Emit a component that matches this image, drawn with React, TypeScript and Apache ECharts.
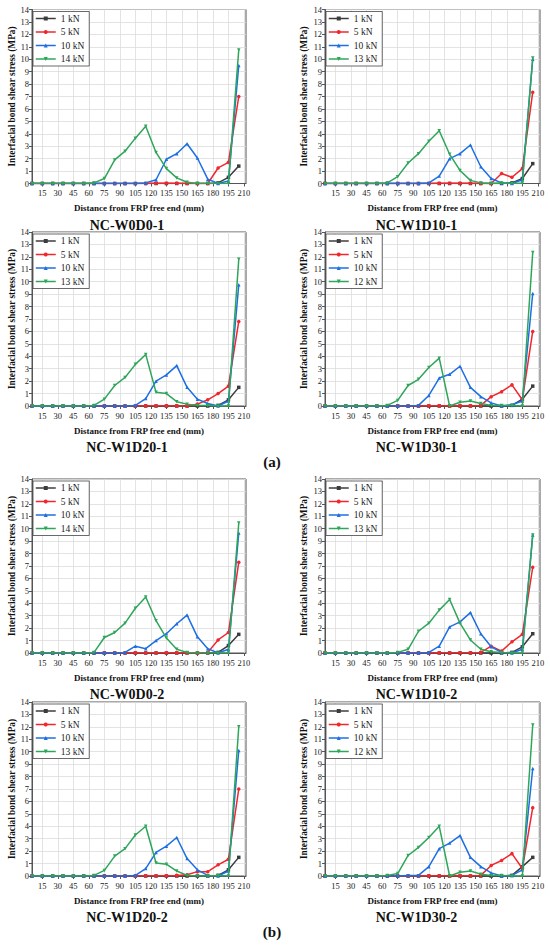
import React, { useEffect, useRef } from "react";
import * as echarts from "echarts";

// ---- data ----
const xPositions = [5, 15, 25, 35, 45, 55, 65, 75, 85, 95, 105, 115, 125, 135, 145, 155, 165, 175, 185, 195, 205];
const xTickValues = [15, 30, 45, 60, 75, 90, 105, 120, 135, 150, 165, 180, 195, 210];

const panelTitles = ["NC-W0D0-1", "NC-W1D10-1", "NC-W1D20-1", "NC-W1D30-1", "NC-W0D0-2", "NC-W1D10-2", "NC-W1D20-2", "NC-W1D30-2"];
const peakLoadNames = ["14 kN", "13 kN", "13 kN", "12 kN", "14 kN", "13 kN", "13 kN", "12 kN"];
const commonLoadNames = ["1 kN", "5 kN", "10 kN"];

// NC-W0D0-1
const p1_1kN = [0, 0, 0, 0, 0, 0, 0, 0, 0, 0, 0, 0, 0, 0, 0, 0, 0, 0, 0.05, 0.5, 1.4];
const p1_5kN = [0, 0, 0, 0, 0, 0, 0, 0, 0, 0, 0, 0, 0.02, 0.02, 0.02, 0, 0, 0, 1.25, 1.7, 7.0];
const p1_10kN = [0, 0, 0, 0, 0, 0, 0, 0, 0, 0, 0, 0.05, 0.3, 1.95, 2.4, 3.2, 2.05, 0.35, 0, 0.2, 9.5];
const p1_peak = [0, 0, 0, 0, 0, 0, 0.05, 0.4, 1.9, 2.6, 3.65, 4.6, 2.5, 1.2, 0.45, 0.1, 0, 0, 0, 0, 10.75];
// NC-W1D10-1
const p2_1kN = [0, 0, 0, 0, 0, 0, 0, 0, 0, 0, 0, 0, 0, 0, 0, 0, 0, 0, 0.05, 0.4, 1.6];
const p2_5kN = [0, 0, 0, 0, 0, 0, 0, 0, 0, 0, 0, 0.02, 0.02, 0.02, 0.02, 0, 0, 0.8, 0.5, 1.2, 7.35];
const p2_10kN = [0, 0, 0, 0, 0, 0, 0, 0, 0, 0, 0.05, 0.6, 2.0, 2.4, 3.1, 1.35, 0.4, 0.05, 0, 0.3, 10.0];
const p2_peak = [0, 0, 0, 0, 0, 0, 0.05, 0.55, 1.65, 2.4, 3.4, 4.25, 2.35, 1.05, 0.25, 0.05, 0, 0.05, 0, 0.05, 10.1];
// NC-W1D20-1
const p3_1kN = [0, 0, 0, 0, 0, 0, 0, 0, 0, 0, 0, 0, 0, 0, 0, 0, 0, 0, 0.05, 0.5, 1.5];
const p3_5kN = [0, 0, 0, 0, 0, 0, 0, 0, 0, 0, 0, 0.02, 0.02, 0.02, 0, 0, 0.15, 0.5, 1.0, 1.6, 6.8];
const p3_10kN = [0, 0, 0, 0, 0, 0, 0, 0, 0, 0, 0.05, 0.6, 2.0, 2.5, 3.25, 1.5, 0.55, 0.2, 0, 0.4, 9.75];
const p3_peak = [0, 0, 0, 0, 0, 0, 0.05, 0.55, 1.65, 2.3, 3.35, 4.15, 1.1, 1.0, 0.35, 0.15, 0.05, 0.05, 0, 0, 11.8];
// NC-W1D30-1
const p4_1kN = [0, 0, 0, 0, 0, 0, 0, 0, 0, 0, 0, 0, 0, 0, 0, 0, 0, 0, 0.05, 0.55, 1.6];
const p4_5kN = [0, 0, 0, 0, 0, 0, 0, 0, 0, 0, 0.02, 0.02, 0, 0.02, 0.02, 0.05, 0.75, 1.15, 1.7, 0.5, 6.0];
const p4_10kN = [0, 0, 0, 0, 0, 0, 0, 0, 0, 0.05, 0.85, 2.25, 2.55, 3.2, 1.5, 0.75, 0.25, 0, 0.1, 0.4, 9.05];
const p4_peak = [0, 0, 0, 0, 0, 0, 0.05, 0.45, 1.65, 2.15, 3.1, 3.85, 0, 0.3, 0.4, 0.2, 0.05, 0.05, 0.05, 0, 12.35];
// NC-W0D0-2
const p5_1kN = [0, 0, 0, 0, 0, 0, 0, 0, 0, 0, 0, 0, 0, 0, 0, 0, 0, 0, 0.05, 0.6, 1.5];
const p5_5kN = [0, 0, 0, 0, 0, 0, 0, 0, 0, 0, 0.02, 0.02, 0.02, 0.02, 0.02, 0, 0, 0.05, 1.05, 1.65, 7.3];
const p5_10kN = [0, 0, 0, 0, 0, 0, 0, 0, 0, 0.05, 0.55, 0.35, 1.0, 1.55, 2.35, 3.05, 1.3, 0.35, 0, 0.3, 9.65];
const p5_peak = [0, 0, 0, 0, 0, 0, 0.05, 1.25, 1.65, 2.4, 3.6, 4.5, 2.6, 1.2, 0.3, 0.05, 0, 0, 0, 0, 10.45];
// NC-W1D10-2
const p6_1kN = [0, 0, 0, 0, 0, 0, 0, 0, 0, 0, 0, 0, 0, 0, 0, 0, 0, 0, 0.05, 0.5, 1.55];
const p6_5kN = [0, 0, 0, 0, 0, 0, 0, 0, 0, 0, 0, 0.02, 0.02, 0.02, 0.02, 0.05, 0.55, 0.15, 0.9, 1.5, 6.9];
const p6_10kN = [0, 0, 0, 0, 0, 0, 0, 0, 0, 0, 0.05, 0.55, 2.1, 2.5, 3.25, 1.55, 0.5, 0.05, 0, 0.3, 9.5];
const p6_peak = [0, 0, 0, 0, 0, 0, 0, 0.05, 0.3, 1.75, 2.4, 3.45, 4.3, 2.4, 1.05, 0.3, 0.1, 0.05, 0, 0, 9.5];
// NC-W1D20-2
const p7_1kN = [0, 0, 0, 0, 0, 0, 0, 0, 0, 0, 0, 0, 0, 0, 0, 0, 0, 0, 0.05, 0.5, 1.5];
const p7_5kN = [0, 0, 0, 0, 0, 0, 0, 0, 0, 0, 0, 0.02, 0.02, 0.02, 0.05, 0.1, 0.35, 0.35, 0.9, 1.35, 7.0];
const p7_10kN = [0, 0, 0, 0, 0, 0, 0, 0, 0, 0, 0.05, 0.6, 1.9, 2.4, 3.1, 1.4, 0.5, 0.05, 0, 0.4, 10.1];
const p7_peak = [0, 0, 0, 0, 0, 0, 0.05, 0.45, 1.6, 2.2, 3.3, 4.0, 1.05, 0.95, 0.4, 0.05, 0, 0, 0.05, 0, 12.0];
// NC-W1D30-2
const p8_1kN = [0, 0, 0, 0, 0, 0, 0, 0, 0, 0, 0, 0, 0, 0, 0, 0, 0, 0, 0.05, 0.75, 1.5];
const p8_5kN = [0, 0, 0, 0, 0, 0, 0, 0, 0, 0, 0.02, 0.02, 0, 0.02, 0.02, 0.05, 0.85, 1.25, 1.8, 0.6, 5.5];
const p8_10kN = [0, 0, 0, 0, 0, 0, 0, 0, 0.05, 0.05, 0.75, 2.2, 2.65, 3.25, 1.5, 0.75, 0.25, 0, 0.05, 0.5, 8.65];
const p8_peak = [0, 0, 0, 0, 0, 0, 0.05, 0.2, 1.65, 2.3, 3.1, 4.0, 0, 0.3, 0.4, 0.15, 0.05, 0.05, 0, 0, 12.15];

const panelSeries = [
  [p1_1kN, p1_5kN, p1_10kN, p1_peak],
  [p2_1kN, p2_5kN, p2_10kN, p2_peak],
  [p3_1kN, p3_5kN, p3_10kN, p3_peak],
  [p4_1kN, p4_5kN, p4_10kN, p4_peak],
  [p5_1kN, p5_5kN, p5_10kN, p5_peak],
  [p6_1kN, p6_5kN, p6_10kN, p6_peak],
  [p7_1kN, p7_5kN, p7_10kN, p7_peak],
  [p8_1kN, p8_5kN, p8_10kN, p8_peak],
];

// ---- styling / layout ----
const SERIF = "Liberation Serif";
const COLORS = ["#3c3c3c", "#f2262b", "#1d6fe3", "#2ea65a"];
const SYMBOLS = ["rect", "circle", "triangle", "triangle"];
const ROTATES = [0, 0, 0, 180];
const COL_LEFT = [32, 325];
const COL_WIDTH = [214, 215];
const COL_CENTER = [127, 416.5];
const ROW_TOP = [9.5, 232, 479, 702];
const PLOT_H = 174;
const Y_NAME_GAP = [14, 17];

function buildOption() {
  const grid: any[] = [];
  const xAxis: any[] = [];
  const yAxis: any[] = [];
  const series: any[] = [];
  const legend: any[] = [];
  const graphic: any[] = [];

  panelSeries.forEach((sets, i) => {
    const col = i % 2;
    const row = Math.floor(i / 2);
    const left = COL_LEFT[col];
    const top = ROW_TOP[row];
    grid.push({
      left,
      top,
      width: COL_WIDTH[col],
      height: PLOT_H,
      show: true,
      borderColor: "#555",
      borderWidth: 1,
      backgroundColor: "#fff",
    });
    xAxis.push({
      type: "value",
      gridIndex: i,
      min: 5,
      max: 212,
      name: "Distance from FRP free end (mm)",
      nameLocation: "middle",
      nameGap: 20,
      nameTextStyle: { fontFamily: SERIF, fontWeight: "bold", fontSize: 9, color: "#111" },
      axisLine: { show: true, onZero: false, lineStyle: { color: "#555", width: 1 } },
      axisTick: { show: true, length: 3, customValues: xTickValues, lineStyle: { color: "#555" } },
      axisLabel: { customValues: xTickValues, fontFamily: SERIF, fontSize: 8.5, color: "#222", margin: 5, hideOverlap: false },
      splitLine: { show: true, lineStyle: { color: "#dcdcdc", width: 0.8 } },
    });
    yAxis.push({
      type: "value",
      gridIndex: i,
      min: 0,
      max: 14,
      interval: 1,
      name: "Interfacial bond shear stress (MPa)",
      nameLocation: "middle",
      nameGap: Y_NAME_GAP[col],
      nameRotate: 90,
      nameTextStyle: { fontFamily: SERIF, fontWeight: "bold", fontSize: 9.3, color: "#111" },
      axisLine: { show: true, lineStyle: { color: "#555", width: 1 } },
      axisTick: { show: true, length: 3, lineStyle: { color: "#555" } },
      axisLabel: { fontFamily: SERIF, fontSize: 8.5, color: "#222", margin: 3 },
      splitLine: { show: true, lineStyle: { color: "#dcdcdc", width: 0.8 } },
    });
    const names = [...commonLoadNames, peakLoadNames[i]];
    sets.forEach((vals, k) => {
      series.push({
        type: "line",
        name: names[k],
        xAxisIndex: i,
        yAxisIndex: i,
        data: xPositions.map((x, j) => [x, vals[j]]),
        symbol: SYMBOLS[k],
        symbolRotate: ROTATES[k],
        symbolSize: 3.5,
        showSymbol: true,
        lineStyle: { color: COLORS[k], width: 1.5 },
        itemStyle: { color: COLORS[k], borderWidth: 0 },
        z: 2 + k,
      });
    });
    legend.push({
      left: left + 1,
      top: top + 2,
      orient: "vertical",
      data: names,
      selectedMode: false,
      itemWidth: 20,
      itemHeight: 5,
      itemGap: 3.5,
      padding: [2, 5, 2, 2],
      borderColor: "#444",
      borderWidth: 0.8,
      backgroundColor: "#fff",
      itemStyle: { borderWidth: 0 },
      lineStyle: { width: 1.5 },
      textStyle: { fontFamily: SERIF, fontSize: 9.5, color: "#222" },
    });
    graphic.push({
      type: "text",
      x: COL_CENTER[col],
      y: top + PLOT_H + 41.5,
      style: {
        text: panelTitles[i],
        fontFamily: SERIF,
        fontWeight: "bold",
        fontSize: 14,
        fill: "#111",
        textAlign: "center",
        textVerticalAlign: "middle",
      },
    });
  });

  graphic.push({
    type: "text",
    x: 272,
    y: 462,
    style: { text: "(a)", fontFamily: SERIF, fontWeight: "bold", fontSize: 15, fill: "#111", textAlign: "center", textVerticalAlign: "middle" },
  });
  graphic.push({
    type: "text",
    x: 272,
    y: 932,
    style: { text: "(b)", fontFamily: SERIF, fontWeight: "bold", fontSize: 15, fill: "#111", textAlign: "center", textVerticalAlign: "middle" },
  });

  return {
    animation: false,
    backgroundColor: "#fff",
    grid,
    xAxis,
    yAxis,
    series,
    legend,
    graphic,
  };
}

export default function App() {
  const ref = useRef<HTMLDivElement>(null);
  useEffect(() => {
    if (!ref.current) return;
    const chart = echarts.init(ref.current, null, { renderer: "svg" });
    chart.setOption(buildOption() as any);
    return () => chart.dispose();
  }, []);
  return (
    <div
      ref={ref}
      style={{ position: "absolute", left: 0, top: 0, width: 550, height: 947, background: "#fff" }}
    />
  );
}
